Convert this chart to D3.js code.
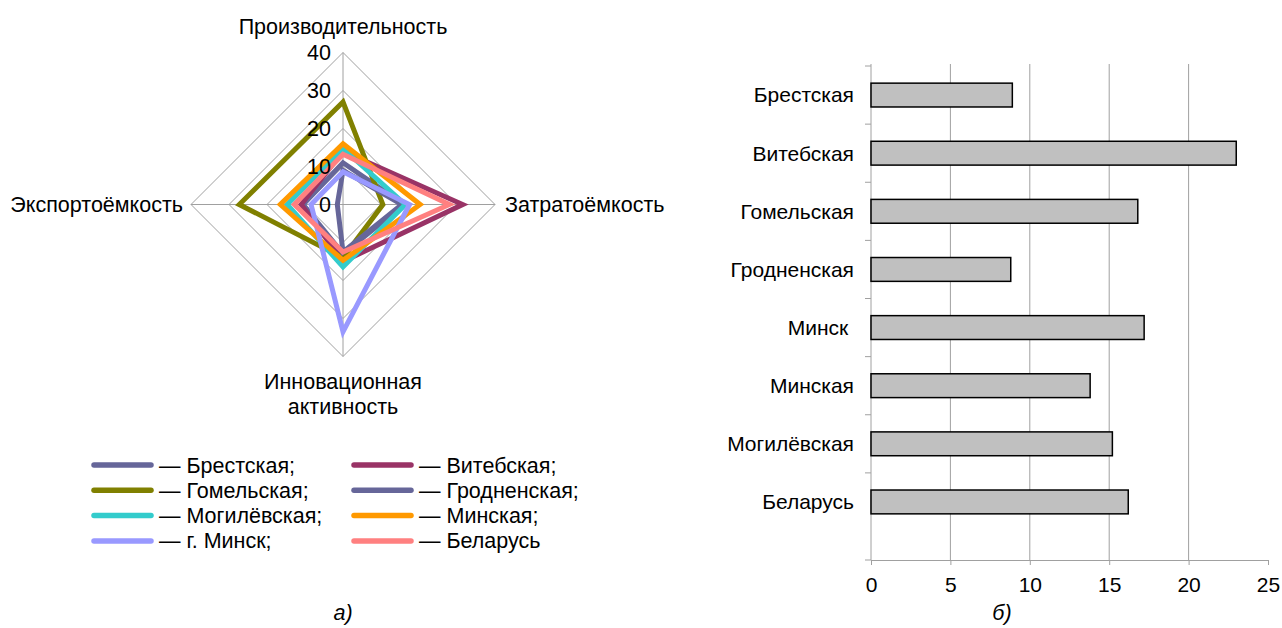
<!DOCTYPE html>
<html>
<head>
<meta charset="utf-8">
<script src="https://cdn.jsdelivr.net/npm/d3@7"></script>
<style>
  body { margin: 0; background: #fff; }
  svg { font-family: "Liberation Sans", Arial, sans-serif; }
</style>
</head>
<body>
<svg id="chart" width="1282" height="628"></svg>
<script>
// radar chart data (a)
var axes = ["Производительность", "Затратоёмкость", "Инновационная активность", "Экспортоёмкость"];
var radarTicks = [0, 10, 20, 30, 40];
var regions = ["Брестская", "Витебская", "Гомельская", "Гродненская", "Могилёвская", "Минская", "г. Минск", "Беларусь"];
var regionColors = ["#666699", "#993366", "#808000", "#666699", "#33CCCC", "#FF9900", "#9999FF", "#FF8080"];
var brest = [11, 16, 13, 10.5];
var vitebsk = [14, 31.5, 15, 11];
var gomel = [27, 10.5, 14, 27.3];
var grodno = [9, 15.5, 12.5, 1.5];
var mogilev = [14.7, 16.4, 16.4, 14.7];
var minskRegion = [16, 20.3, 14.7, 16.5];
var minskCity = [8.6, 17.5, 33.5, 8.4];
var belarus = [13.2, 28, 12.5, 12.8];
var legendLabels = ["— Брестская;", "— Витебская;", "— Гомельская;", "— Гродненская;", "— Могилёвская;", "— Минская;", "— г. Минск;", "— Беларусь"];

// bar chart data (б)
var barCategories = ["Брестская", "Витебская", "Гомельская", "Гродненская", "Минск ", "Минская", "Могилёвская", "Беларусь"];
var barValues = [8.9, 23.0, 16.8, 8.8, 17.2, 13.8, 15.2, 16.2];
var barTicks = [0, 5, 10, 15, 20, 25];

var svg = d3.select("#chart");
var fontSize = 21.5;
var barFont = 21;

// ---------- radar ----------
var cx = 343, cy = 204.5;
var r = d3.scaleLinear().domain([0, 40]).range([0, 152]);
var series = [brest, vitebsk, gomel, grodno, mogilev, minskRegion, minskCity, belarus];

function pt(i, v) {
    var a = i * Math.PI / 2;
    return [cx + r(v) * Math.sin(a), cy - r(v) * Math.cos(a)];
}

var radar = svg.append("g").attr("class", "radar");

// grid diamonds
radar.selectAll(".ring")
    .data(radarTicks.filter(function (d) { return d > 0; }))
    .enter().append("polygon")
    .attr("points", function (d) {
        return axes.map(function (a, i) { return pt(i, d).join(","); }).join(" ");
    })
    .attr("fill", "none")
    .attr("stroke", "#a0a0a0")
    .attr("stroke-width", 1);

// spokes
radar.selectAll(".spoke")
    .data(axes)
    .enter().append("line")
    .attr("x1", cx).attr("y1", cy)
    .attr("x2", function (d, i) { return pt(i, 40)[0]; })
    .attr("y2", function (d, i) { return pt(i, 40)[1]; })
    .attr("stroke", "#a0a0a0")
    .attr("stroke-width", 1);

// series
var line = d3.line().curve(d3.curveLinearClosed);
radar.selectAll(".series")
    .data(series)
    .enter().append("path")
    .attr("d", function (s) { return line(s.map(function (v, i) { return pt(i, v); })); })
    .attr("fill", "none")
    .attr("stroke", function (d, i) { return regionColors[i]; })
    .attr("stroke-width", 5)
    .attr("stroke-linejoin", "miter");

// tick labels
radar.selectAll(".tick")
    .data(radarTicks)
    .enter().append("text")
    .attr("x", cx - 12)
    .attr("y", function (d) { return cy - r(d); })
    .attr("dy", "0.35em")
    .attr("text-anchor", "end")
    .attr("font-size", fontSize)
    .text(function (d) { return d; });

// axis titles
radar.append("text").attr("x", cx).attr("y", 34).attr("text-anchor", "middle")
    .attr("font-size", fontSize).text(axes[0]);
radar.append("text").attr("x", pt(1, 40)[0] + 10).attr("y", cy).attr("dy", "0.35em")
    .attr("font-size", fontSize).text(axes[1]);
var innov = radar.append("text").attr("x", cx).attr("y", 389).attr("text-anchor", "middle")
    .attr("font-size", fontSize);
innov.append("tspan").attr("x", cx).text(axes[2].split(" ")[0]);
innov.append("tspan").attr("x", cx).attr("dy", 25).text(axes[2].split(" ")[1]);
radar.append("text").attr("x", pt(3, 40)[0] - 8).attr("y", cy).attr("dy", "0.35em")
    .attr("text-anchor", "end").attr("font-size", fontSize).text(axes[3]);

// legend
var legend = radar.selectAll(".legend")
    .data(legendLabels)
    .enter().append("g")
    .attr("transform", function (d, i) {
        return "translate(" + (i % 2 === 0 ? 94 : 354) + "," + (465 + Math.floor(i / 2) * 25.3) + ")";
    });
legend.append("line")
    .attr("x1", 0).attr("x2", 57)
    .attr("stroke", function (d, i) { return regionColors[i]; })
    .attr("stroke-width", 5.5)
    .attr("stroke-linecap", "round");
legend.append("text")
    .attr("x", 65).attr("dy", "0.35em")
    .attr("font-size", fontSize)
    .text(function (d) { return d; });

svg.append("text").attr("x", cx).attr("y", 620).attr("text-anchor", "middle")
    .attr("font-size", fontSize).attr("font-style", "italic").text("а)");

// ---------- bars ----------
var plotTop = 64, plotBottom = 560;
var x = d3.scaleLinear().domain([0, 25]).range([871, 1268]);
var y = d3.scaleBand().domain(barCategories).range([66, 531]).paddingInner(0.59).paddingOuter(0.295);
var bars = svg.append("g").attr("class", "bars");

bars.selectAll(".grid")
    .data(barTicks.filter(function (d) { return d > 0 && d < 25; }))
    .enter().append("line")
    .attr("x1", function (d) { return x(d); }).attr("x2", function (d) { return x(d); })
    .attr("y1", plotTop).attr("y2", plotBottom)
    .attr("stroke", "#a0a0a0");

var xAxis = bars.append("g")
    .attr("transform", "translate(0," + plotBottom + ")")
    .call(d3.axisBottom(x).tickValues(barTicks).tickSize(5).tickPadding(12));
xAxis.select(".domain").attr("stroke", "#a0a0a0");
xAxis.selectAll("line").attr("stroke", "#a0a0a0");
xAxis.selectAll("text").attr("font-size", barFont).attr("font-family", "Liberation Sans, Arial, sans-serif").attr("fill", "#000");

// y axis line with ticks between categories
var step = y.step();
var yBounds = d3.range(barCategories.length).map(function (i) { return y(barCategories[i]) - step * 0.295; });
yBounds.push(plotBottom);
bars.append("line").attr("x1", 871).attr("x2", 871).attr("y1", plotTop).attr("y2", plotBottom).attr("stroke", "#a0a0a0");
bars.selectAll(".ytick")
    .data(yBounds)
    .enter().append("line")
    .attr("x1", 865).attr("x2", 871)
    .attr("y1", function (d) { return d; }).attr("y2", function (d) { return d; })
    .attr("stroke", "#a0a0a0");

bars.selectAll("rect")
    .data(barValues)
    .enter().append("rect")
    .attr("x", x(0))
    .attr("y", function (d, i) { return y(barCategories[i]); })
    .attr("width", function (d) { return x(d) - x(0); })
    .attr("height", y.bandwidth())
    .attr("fill", "#C0C0C0")
    .attr("stroke", "#000")
    .attr("stroke-width", 1.5);

bars.selectAll(".cat")
    .data(barCategories)
    .enter().append("text")
    .attr("x", 854)
    .attr("y", function (d) { return y(d) + y.bandwidth() / 2; })
    .attr("dy", "0.35em")
    .attr("text-anchor", "end")
    .attr("font-size", barFont)
    .style("white-space", "pre")
    .text(function (d) { return d; });

svg.append("text").attr("x", 1002).attr("y", 620).attr("text-anchor", "middle")
    .attr("font-size", fontSize).attr("font-style", "italic").text("б)");
</script>
</body>
</html>
